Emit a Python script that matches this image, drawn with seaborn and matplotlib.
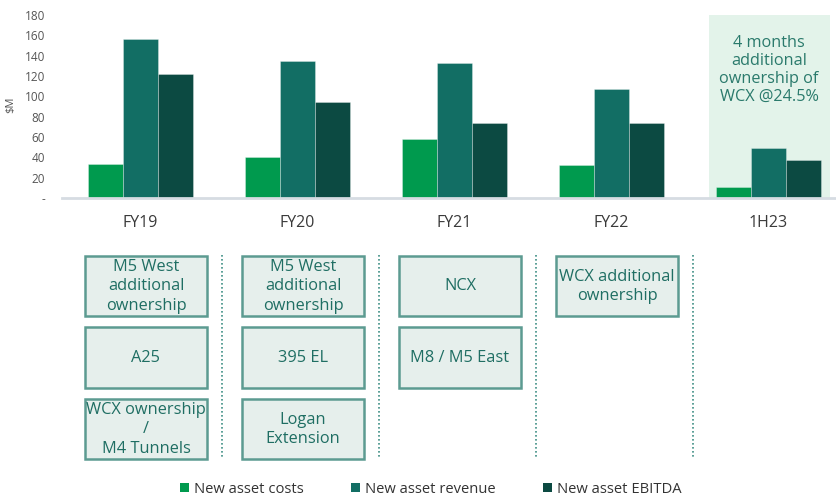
import matplotlib
matplotlib.use("Agg")
import numpy as np
import pandas as pd
import matplotlib.pyplot as plt
import seaborn as sns
from matplotlib.patches import Rectangle

# ---------------- data ----------------
periods = ["FY19", "FY20", "FY21", "FY22", "1H23"]
series = ["New asset costs", "New asset revenue", "New asset EBITDA"]
costs = [33, 40, 58, 32, 11]
revenue = [156, 135, 133, 107, 49]
ebitda = [122, 94, 74, 74, 37]
yticks = [0, 20, 40, 60, 80, 100, 120, 140, 160, 180]
ytick_labels = ["-", "20", "40", "60", "80", "100", "120", "140", "160", "180"]
y_label = "$M"
highlight_note = "4 months\nadditional\nownership of\nWCX @24.5%"
asset_boxes = [
    ["M5 West\nadditional\nownership", "A25", "WCX ownership\n/\nM4 Tunnels"],
    ["M5 West\nadditional\nownership", "395 EL", "Logan\nExtension"],
    ["NCX", "M8 / M5 East"],
    ["WCX additional\nownership"],
    [],
]

colors = ["#009a4e", "#126e64", "#0c4a42"]
teal_text = "#1f6e63"

# ---------------- style ----------------
sns.set_theme(style="white")
plt.rcParams["font.family"] = ["Open Sans", "DejaVu Sans"]

W, H = 837, 498
fig = plt.figure(figsize=(W / 100, H / 100), dpi=100)
ax_left, ax_bottom_px, ax_top_px = 62, 198, 15
ax = fig.add_axes([ax_left / W, 1 - ax_bottom_px / H, (W - ax_left) / W,
                   (ax_bottom_px - ax_top_px) / H])

df = pd.DataFrame({
    "period": periods * 3,
    "series": [s for s in series for _ in periods],
    "value": costs + revenue + ebitda,
})
sns.barplot(data=df, x="period", y="value", hue="series", order=periods,
            hue_order=series, palette=colors, saturation=1, width=0.666,
            gap=0, ax=ax, legend=False, edgecolor=(1, 1, 1, 0.35),
            linewidth=0.6, zorder=2)

spacing_px = 157.0
x0 = -0.5
x1 = x0 + (W - ax_left) / spacing_px
ax.set_xlim(x0, x1)
ax.set_ylim(0, 180)

# highlight for last period
ax.axvspan(3.62, 4.39, color="#e3f3ea", zorder=0, lw=0)
ax.text(4.003, 126, highlight_note, ha="center", va="center",
        fontsize=11.7, color="#2a7a6c", linespacing=1.15, zorder=3)

ax.set_yticks(yticks)
ax.set_yticklabels(ytick_labels)
ax.tick_params(axis="y", length=0, pad=12, labelsize=8.5, colors="#555555")
ax.tick_params(axis="x", length=0, pad=12, labelsize=11.5, colors="#3a3a3a")
ax.set_xlabel("")
ax.set_ylabel(y_label, fontsize=8, color="#555555")
ax.yaxis.set_label_coords(-0.059, 0.508)
for side in ["left", "right", "top"]:
    ax.spines[side].set_visible(False)
ax.spines["bottom"].set_color("#d6dce2")
ax.spines["bottom"].set_linewidth(2)
ax.grid(False)

# ---------------- lower panel: asset boxes ----------------
ax2 = fig.add_axes([ax_left / W, 0, (W - ax_left) / W, 1])
ax2.set_xlim(x0, x1)
ax2.set_ylim(H, 0)
ax2.axis("off")
ax2.patch.set_alpha(0)

box_w = 0.777
box_h = 60.5
row_top = 255.7
row_step = 71.5
for i, items in enumerate(asset_boxes):
    cx = i + 0.035
    for r, label in enumerate(items):
        top = row_top + r * row_step
        ax2.add_patch(Rectangle((cx - box_w / 2, top), box_w, box_h,
                                facecolor="#e6efec", edgecolor="#5c9b91",
                                linewidth=1.8))
        ax2.text(cx, top + box_h / 2 + 0.5, label, ha="center", va="center",
                 fontsize=11.8, color=teal_text, linespacing=1.27)

for i in range(len(periods) - 1):
    ax2.plot([i + 0.52, i + 0.52], [255, 458], color="#3f8f85",
             linestyle=(0, (1, 1.4)), linewidth=1.2)

# ---------------- legend ----------------
handles = [Rectangle((0, 0), 1, 1, facecolor=c, edgecolor="none") for c in colors]
fig.legend(handles, series, loc="center", bbox_to_anchor=(431 / W, 1 - 489 / H),
           ncol=3, frameon=False, fontsize=10.6, handlelength=0.6,
           handleheight=0.6, handletextpad=0.35, columnspacing=3.2,
           labelcolor="#333333")

fig.savefig("out.png", dpi=100)
